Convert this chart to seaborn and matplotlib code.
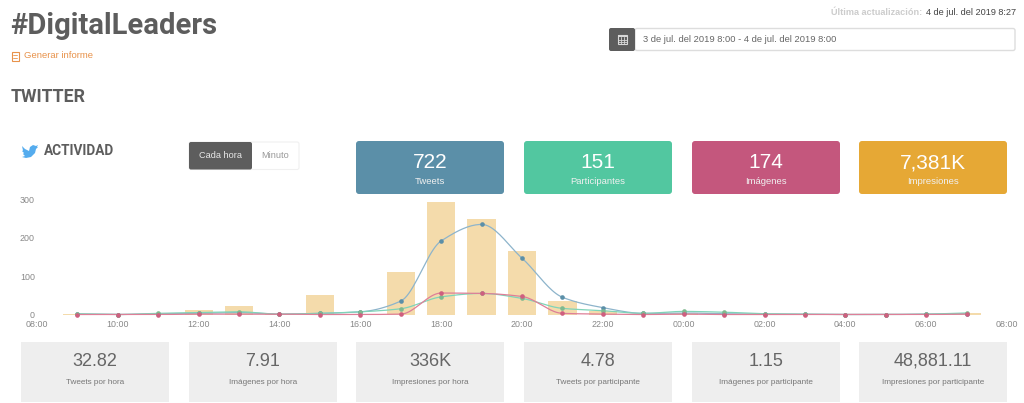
import numpy as np
import pandas as pd
import matplotlib
matplotlib.use("Agg")
import matplotlib.pyplot as plt
from matplotlib.patches import FancyBboxPatch, Rectangle, Polygon
import seaborn as sns

hours = list(range(9, 32))
impresiones = [2, 0, 1, 13, 21, 1, 50, 2, 110, 294, 248, 165, 35, 10, 2, 3, 2, 1, 1, 0, 0, 1, 3]
tweets = [1, 0, 2, 3, 5, 1, 3, 7, 35, 192, 235, 147, 45, 18, 3, 4, 2, 1, 1, 0, 0, 1, 2]
participantes = [2, 0, 3, 5, 7, 1, 3, 7, 15, 46, 55, 42, 16, 10, 3, 8, 6, 2, 1, 0, 0, 1, 4]
imagenes = [0, 0, 0, 1, 1, 1, 0, 0, 1, 56, 55, 47, 3, 1, 0, 1, 0, 0, 0, 0, 0, 0, 1]

tick_hours = list(range(8, 33, 2))
tick_labels = ["08:00", "10:00", "12:00", "14:00", "16:00", "18:00", "20:00",
               "22:00", "00:00", "02:00", "04:00", "06:00", "08:00"]

top_values = ["722", "151", "174", "7,381K"]
top_names = ["Tweets", "Participantes", "Imágenes", "Impresiones"]
top_colors = ["#5B8FA8", "#52C7A0", "#C4577D", "#E6A835"]
bottom_values = ["32.82", "7.91", "336K", "4.78", "1.15", "48,881.11"]
bottom_names = ["Tweets por hora", "Imágenes por hora", "Impresiones por hora",
                "Tweets por participante", "Imágenes por participante",
                "Impresiones por participante"]


def smooth(x, y, n=20):
    # monotone cubic between the read points, only for the look of the line
    x = np.asarray(x, float)
    y = np.asarray(y, float)
    d = np.diff(y) / np.diff(x)
    m = np.zeros(len(y))
    m[0], m[-1] = d[0], d[-1]
    for i in range(1, len(y) - 1):
        m[i] = 0 if d[i - 1] * d[i] <= 0 else 2 * d[i - 1] * d[i] / (d[i - 1] + d[i])
    xs, ys = [], []
    for i in range(len(x) - 1):
        t = np.linspace(0, 1, n, endpoint=False)
        h = x[i + 1] - x[i]
        xs.append(x[i] + t * h)
        ys.append((2 * t**3 - 3 * t**2 + 1) * y[i] + (t**3 - 2 * t**2 + t) * h * m[i]
                  + (-2 * t**3 + 3 * t**2) * y[i + 1] + (t**3 - t**2) * h * m[i + 1])
    return np.append(np.concatenate(xs), x[-1]), np.append(np.concatenate(ys), y[-1])


sns.set_theme(style="white")
plt.rcParams["font.family"] = ["Liberation Sans", "DejaVu Sans"]

W, H = 1024, 403
fig = plt.figure(figsize=(W / 100, H / 100), dpi=100, facecolor="white")

# page furniture, drawn in pixel coordinates
ui = fig.add_axes([0, 0, 1, 1])
ui.set_xlim(0, W)
ui.set_ylim(H, 0)
ui.axis("off")

dark = "#5D5D5D"
orange = "#E8924A"
ui.text(10, 26.5, "#DigitalLeaders", fontsize=21, fontweight="bold", family="Roboto",
        color=dark, va="center")
ui.text(24, 55.5, "Generar informe", fontsize=6.8, color=orange, va="center")
ui.add_patch(Rectangle((11.5, 51.5), 7, 9, fc="none", ec=orange, lw=0.8))
ui.plot([13, 17], [55, 55], color=orange, lw=0.6)
ui.plot([13, 17], [57.5, 57.5], color=orange, lw=0.6)
ui.text(11, 96.5, "TWITTER", fontsize=12.8, fontweight="bold", family="Roboto", color=dark, va="center")
ui.text(44, 151, "ACTIVIDAD", fontsize=9.8, fontweight="bold", family="Roboto", color=dark, va="center")
bird = [(22, 146), (25, 149), (29, 151), (30, 147), (33, 145), (36, 146), (38, 145),
        (37, 147), (38, 147), (36, 149), (35, 153), (31, 157), (26, 158), (22, 157),
        (25, 156), (23, 154), (24, 153), (22, 151), (23, 150.5)]
ui.add_patch(Polygon(bird, closed=True, fc="#55ACEE", ec="none"))

ui.text(922, 12.5, "Última actualización:", fontsize=6.6, fontweight="bold", color="#CCCCCC",
        ha="right", va="center")
ui.text(1016, 12.5, "4 de jul. del 2019 8:27", fontsize=6.6, color="#444444", ha="right", va="center")

ui.add_patch(FancyBboxPatch((635, 28.5), 380, 22, boxstyle="round,pad=0,rounding_size=2",
                            fc="white", ec="#DDDDDD", lw=1))
ui.add_patch(FancyBboxPatch((609, 28), 26, 23, boxstyle="round,pad=0,rounding_size=2",
                            fc=dark, ec="none"))
# calendar icon
ui.add_patch(Rectangle((618, 35), 9, 9, fc="none", ec="#D8D8D8", lw=0.8))
ui.add_patch(Rectangle((618, 35), 9, 2, fc="#D8D8D8", ec="none"))
for gx in [621, 624]:
    ui.plot([gx, gx], [37, 44], color="#D8D8D8", lw=0.6)
for gy in [39.5, 42]:
    ui.plot([618, 627], [gy, gy], color="#D8D8D8", lw=0.6)
ui.text(643, 39.5, "3 de jul. del 2019 8:00 - 4 de jul. del 2019 8:00", fontsize=6.75,
        color="#666666", va="center")

ui.add_patch(FancyBboxPatch((189, 142), 110, 27.5, boxstyle="round,pad=0,rounding_size=2",
                            fc="white", ec="#F0F0F0", lw=0.8))
ui.add_patch(FancyBboxPatch((189, 142), 63, 27.5, boxstyle="round,pad=0,rounding_size=2",
                            fc=dark, ec="none"))
ui.text(220.5, 156, "Cada hora", fontsize=6.6, color="#E8E8E8", ha="center", va="center")
ui.text(275.5, 156, "Minuto", fontsize=6.6, color="#999999", ha="center", va="center")

card_lefts = [356, 524, 692, 859]
for left, val, name, col in zip(card_lefts, top_values, top_names, top_colors):
    ui.add_patch(FancyBboxPatch((left, 141), 148, 53, boxstyle="round,pad=0,rounding_size=3",
                                fc=col, ec="none"))
    ui.text(left + 74, 163, val, fontsize=15, color="white", ha="center", va="center")
    ui.text(left + 74, 181.5, name, fontsize=6.8, color="#F0F0F0", ha="center", va="center")

stat_lefts = [21, 189, 356, 524, 692, 859]
for left, val, name in zip(stat_lefts, bottom_values, bottom_names):
    ui.add_patch(Rectangle((left, 342), 147.5, 60, fc="#EEEEEE", ec="none"))
    ui.text(left + 74, 361, val, fontsize=13, color="#666666", ha="center", va="center")
    ui.text(left + 74, 383, name, fontsize=5.9, color="#777777", ha="center", va="center")

# the chart itself
ax = fig.add_axes([37 / W, 1 - 314.5 / H, 970 / W, 115 / H])
ax.patch.set_alpha(0)
df = pd.DataFrame({"hora": hours, "impresiones": impresiones})
sns.barplot(data=df, x="hora", y="impresiones", native_scale=True, width=0.7,
            color="#F4DBAB", saturation=1, linewidth=0, ax=ax, zorder=1)

series = [(tweets, "#8DB4CB", "#5B8FA8"),
          (participantes, "#7FD4B8", "#7FB98F"),
          (imagenes, "#DE7F98", "#CF5F7F")]
for values, line_col, dot_col in series:
    xs, ys = smooth(hours, values)
    sns.lineplot(x=xs, y=ys, color=line_col, lw=0.9, ax=ax, zorder=3, estimator=None,
                 sort=False, clip_on=False)
    sns.scatterplot(x=hours, y=values, color=dot_col, s=11, linewidth=0, ax=ax, zorder=4,
                    clip_on=False)

ax.set_xlim(8, 32)
ax.set_ylim(0, 300)
ax.set_xticks(tick_hours)
ax.set_xticklabels(tick_labels)
ax.set_yticks([0, 100, 200, 300])
ax.set_xlabel("")
ax.set_ylabel("")
ax.tick_params(axis="both", length=0, labelsize=6.4, labelcolor="#888888")
ax.tick_params(axis="x", pad=4)
ax.tick_params(axis="y", pad=1.5)
sns.despine(ax=ax, left=True, bottom=True)

fig.savefig("out.png", dpi=100)
